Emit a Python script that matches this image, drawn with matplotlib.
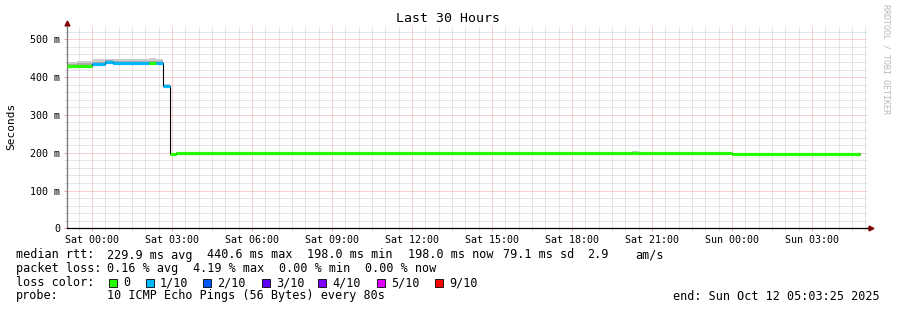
import numpy as np
import matplotlib
matplotlib.use("Agg")
import matplotlib.pyplot as plt
from matplotlib.patches import Rectangle

W, H = 897, 310
MONO = "DejaVu Sans Mono"
plt.rcParams['font.family'] = MONO

# time in hours relative to Sat 00:00, graph window = last 30 hours
t_end = 29 + 3 / 60 + 25 / 3600
t_start = t_end - 30

# step segments (ms)
seg_start = [-0.943, -0.56, 0.00, 0.49, 0.79, 2.14, 2.40, 2.66, 2.93, 3.15, 20.25, 20.51, 24.00]
seg_end = [-0.56, 0.00, 0.49, 0.79, 2.14, 2.40, 2.66, 2.93, 3.15, 20.25, 20.51, 24.00, 28.80]
median_ms = [430, 430, 434, 440, 437, 438, 438, 376, 196.5, 200, 200, 200, 197]
loss_idx = [0, 0, 1, 1, 1, 0, 1, 1, 0, 0, 0, 0, 0]
smoke_lo = [427, 427, 431, 436, 433, 432, 434, 373, 195, 199, 199, 199, 196]
smoke_hi = [440, 443, 447, 449, 447, 450, 447, 383, 198, 201, 204, 201, 198]

loss_labels = ["0", "1/10", "2/10", "3/10", "4/10", "5/10", "9/10"]
loss_colors = ["#26ff00", "#00b8ff", "#0059ff", "#5e00ff", "#7e00ff", "#dd00ff", "#ff0000"]

y_ticks = [0, 0.1, 0.2, 0.3, 0.4, 0.5]
y_labels = ["0", "100 m", "200 m", "300 m", "400 m", "500 m"]
x_ticks = [0, 3, 6, 9, 12, 15, 18, 21, 24, 27]
x_labels = ["Sat 00:00", "Sat 03:00", "Sat 06:00", "Sat 09:00", "Sat 12:00",
            "Sat 15:00", "Sat 18:00", "Sat 21:00", "Sun 00:00", "Sun 03:00"]

fig = plt.figure(figsize=(W / 100, H / 100), dpi=100)
ax = fig.add_axes([67 / W, (H - 228.3) / H, 800 / W, 201.6 / H])
ax.set_xlim(t_start, t_end)
ax.set_ylim(0, 0.5335)

# grid
dot = (0, (1, 1))
minor_t = [t for t in np.arange(-0.5, t_end, 0.5) if t % 3 != 0]
minor_v = [v for v in np.arange(0.02, 0.54, 0.02) if round(v * 1000) % 100 != 0]
for t in minor_t:
    ax.axvline(t, color="#cccccc", lw=0.72, ls=dot, zorder=0.5)
for v in minor_v:
    ax.axhline(v, color="#cccccc", lw=0.72, ls=dot, zorder=0.5)
for t in x_ticks:
    ax.axvline(t, color="#f0a0a0", lw=0.72, ls=dot, zorder=0.6)
for v in y_ticks[1:]:
    ax.axhline(v, color="#f0a0a0", lw=0.72, ls=dot, zorder=0.6)

# smoke
for t0, t1, lo, hi, md in zip(seg_start, seg_end, smoke_lo, smoke_hi, median_ms):
    ax.fill_between([t0, t1], [lo / 1000] * 2, [hi / 1000] * 2,
                    color="#cccccc", lw=0, zorder=1)
    mid_lo = (lo + md) / 2
    mid_hi = (hi + md) / 2
    ax.fill_between([t0, t1], [mid_lo / 1000] * 2, [mid_hi / 1000] * 2,
                    color="#aaaaaa", lw=0, zorder=1.1)

# black median step line
xs, ys = [], []
for t0, t1, md in zip(seg_start, seg_end, median_ms):
    xs += [t0, t1]
    ys += [md / 1000, md / 1000]
ax.plot(xs, ys, color="black", lw=0.8, zorder=2)

# median coloured by loss
for t0, t1, md, li in zip(seg_start, seg_end, median_ms, loss_idx):
    ax.plot([t0, t1], [md / 1000] * 2, color=loss_colors[li], lw=2.3,
            solid_capstyle="butt", zorder=3)

ax.set_xticks(x_ticks, x_labels)
ax.set_yticks(y_ticks, y_labels)
ax.set_xticks(minor_t, minor=True)
ax.set_yticks(minor_v, minor=True)
ax.tick_params(labelsize=7.2, length=2, width=0.7, color="#f0a0a0")
ax.tick_params(which="minor", length=1.5, width=0.7, color="#cccccc")
ax.tick_params(axis="y", pad=3)
ax.tick_params(axis="x", pad=2.5)
for s in ["top", "right"]:
    ax.spines[s].set_visible(False)
ax.spines["left"].set_color("#777777")
ax.spines["bottom"].set_color("black")
ax.spines["left"].set_linewidth(0.9)
ax.spines["bottom"].set_linewidth(0.9)
ax.plot([1, 1.004], [0, 0], transform=ax.transAxes, color="black", lw=0.9, clip_on=False)
ax.plot([0], [1.02], transform=ax.transAxes, marker="^", ms=3.5, color="#7f0000",
        clip_on=False)
ax.plot([1.005], [0], transform=ax.transAxes, marker=">", ms=3.5, color="#7f0000",
        clip_on=False)

def fx(x):
    return x / W

def fy(y):
    return 1 - y / H

fig.text(fx(448), fy(19), "Last 30 Hours", ha="center", va="center", fontsize=9.5)
fig.text(fx(11), fy(126), "Seconds", ha="center", va="center", rotation=90, fontsize=8)
fig.text(fx(886), fy(4), "RRDTOOL / TOBI OETIKER", ha="center", va="top",
         rotation=270, fontsize=6, color="#b8b8b8")

fs = 8.5
row1 = [(16, "median rtt:"), (107, "229.9 ms avg"), (207, "440.6 ms max"),
        (307, "198.0 ms min"), (408, "198.0 ms now"), (503, "79.1 ms sd"),
        (587, "2.9"), (635, "am/s")]
row2 = [(16, "packet loss:"), (107, "0.16 % avg"), (193, "4.19 % max"),
        (279, "0.00 % min"), (365, "0.00 % now")]
for x, s in row1:
    fig.text(fx(x), fy(255), s, va="center", fontsize=fs)
for x, s in row2:
    fig.text(fx(x), fy(268.5), s, va="center", fontsize=fs)

fig.text(fx(16), fy(282.5), "loss color:", va="center", fontsize=fs)
box_x = [109, 146, 203, 262, 318, 377, 435]
for bx, lab, col in zip(box_x, loss_labels, loss_colors):
    fig.add_artist(Rectangle((fx(bx), fy(286.5)), 8 / W, 8 / H, transform=fig.transFigure,
                             facecolor=col, edgecolor="black", lw=0.6))
    fig.text(fx(bx + 14), fy(282.5), lab, va="center", fontsize=fs)

fig.text(fx(16), fy(296), "probe:", va="center", fontsize=fs)
fig.text(fx(107), fy(296), "10 ICMP Echo Pings (56 Bytes) every 80s", va="center", fontsize=fs)
fig.text(fx(880), fy(296), "end: Sun Oct 12 05:03:25 2025", ha="right", va="center", fontsize=fs)

fig.savefig("out.png", dpi=100)
